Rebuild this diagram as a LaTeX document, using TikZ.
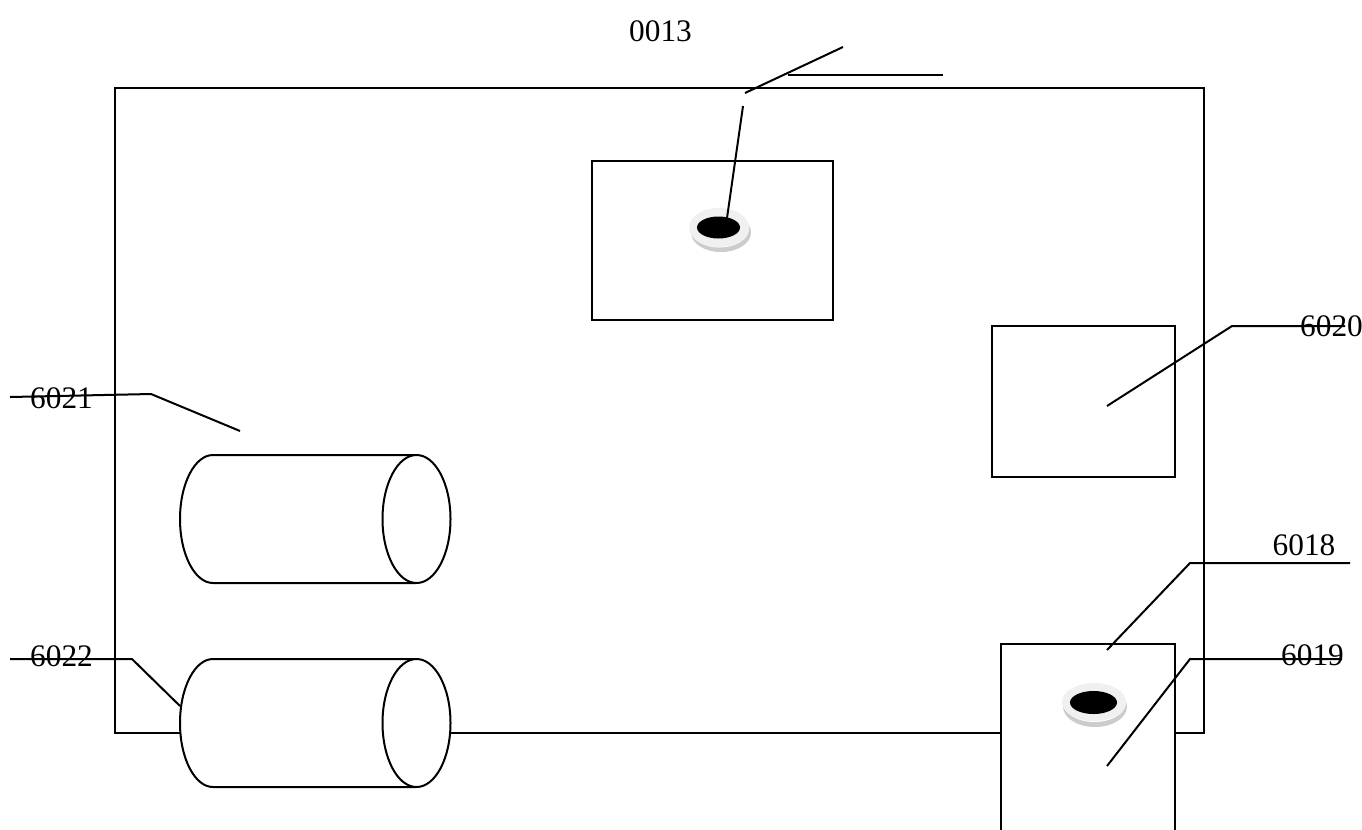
\documentclass[tikz,border=0pt]{standalone}
\usepackage{fontspec}
\usetikzlibrary{shapes.geometric}
\setmainfont{Liberation Serif}
\tikzset{
  ln/.style={draw=black,line width=1.5pt,line join=miter},
  leader/.style={draw=black,line width=1.5pt},
  lab/.style={inner sep=0pt,font=\fontsize{23.5pt}{26pt}\selectfont},
  hole/.style={fill=black,draw=none},
  ring/.style={fill=black!6,draw=none},
  ringshadow/.style={fill=black!20,draw=none}
}
\begin{document}
\begin{tikzpicture}[x=0.75pt,y=-0.75pt]
\useasboundingbox (0,0) rectangle (1362,829);
\clip (0,0) rectangle (1362,829);
% housing
\draw[ln] (115,88) rectangle (1204,733);
% upper panel
\node[ln,fill=white,minimum width=180.75pt,minimum height=119.25pt,inner sep=0pt,outer sep=0pt] (panel) at (712,240.75) {};
% right panel
\node[ln,fill=white,minimum width=137.25pt,minimum height=113.25pt,inner sep=0pt,outer sep=0pt] (side) at (1083.5,401.5) {};
% lower box
\draw[ln,fill=white] (1001,835) -- (1001,644) -- (1175,644) -- (1175,835);
% cylinders
\draw[ln,fill=white] (416,455) -- (213,455) arc[start angle=-90,end angle=-270,x radius=33,y radius=64] -- (416,583);
\draw[ln,fill=white] (416.5,519) ellipse[x radius=34,y radius=64];
\draw[ln,fill=white] (416,659) -- (213,659) arc[start angle=-90,end angle=-270,x radius=33,y radius=64] -- (416,787);
\draw[ln,fill=white] (416.5,723) ellipse[x radius=34,y radius=64];
% holes
\fill[ringshadow] (721,232.5) ellipse[x radius=30,y radius=19.5];
\fill[white] (719.5,228.5) ellipse[x radius=29.5,y radius=19];
\fill[ring] (719,227.5) ellipse[x radius=30,y radius=19.5];
\node[hole,ellipse,minimum width=32.25pt,minimum height=16.5pt,inner sep=0pt] (holeA) at (718.5,227.5) {};
\fill[ringshadow] (1095,706.5) ellipse[x radius=32,y radius=20.5];
\fill[white] (1094.5,702.5) ellipse[x radius=31.5,y radius=19.5];
\fill[ring] (1094,702) ellipse[x radius=32,y radius=19];
\node[hole,ellipse,minimum width=35.25pt,minimum height=17.25pt,inner sep=0pt] (holeB) at (1093.5,702.5) {};
% labels
\node[lab] (l13) at (660.5,31) {0013};
\node[lab] (l20) at (1331.5,326) {6020};
\node[lab] (l21) at (61.5,398) {6021};
\node[lab] (l22) at (61.5,656) {6022};
\node[lab] (l18) at (1304,545) {6018};
\node[lab] (l19) at (1312.5,655) {6019};
% leaders
\coordinate (a1) at (727,218); \coordinate (a2) at (743,106);
\coordinate (b1) at (745,93); \coordinate (b2) at (843,47);
\coordinate (c1) at (788,75); \coordinate (c2) at (943,75);
\draw[leader] (a1) -- (a2);
\draw[leader] (b1) -- (b2);
\draw[leader] (c1) -- (c2);
\coordinate (d1) at (1107,406); \coordinate (d2) at (1232,326); \coordinate (d3) at (1345,326);
\draw[leader] (d1) -- (d2) -- (d3);
\coordinate (e1) at (10,397); \coordinate (e2) at (151,394); \coordinate (e3) at (240,431);
\draw[leader] (e1) -- (e2) -- (e3);
\coordinate (f1) at (10,659); \coordinate (f2) at (132,659); \coordinate (f3) at (180,706);
\draw[leader] (f1) -- (f2) -- (f3);
\coordinate (g1) at (1107,650); \coordinate (g2) at (1190,563); \coordinate (g3) at (1350,563);
\draw[leader] (g1) -- (g2) -- (g3);
\coordinate (h1) at (1107,766); \coordinate (h2) at (1190,659); \coordinate (h3) at (1342,659);
\draw[leader] (h1) -- (h2) -- (h3);
\end{tikzpicture}
\end{document}
